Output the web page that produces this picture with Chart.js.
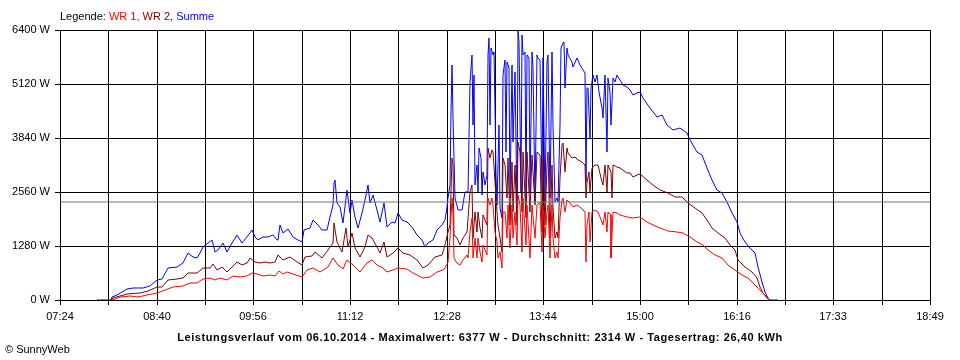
<!DOCTYPE html>
<html>
<head>
<meta charset="utf-8">
<script src="https://cdn.jsdelivr.net/npm/chart.js@4/dist/chart.umd.min.js"></script>
<style>
  html, body { margin: 0; padding: 0; background: #fff; }
  #wrap { position: relative; width: 960px; height: 360px; background: #fff; overflow: hidden; }
  #c { position: absolute; left: 0; top: 0; }
  .txt { position: absolute; font-family: "Liberation Sans", Arial, sans-serif; font-size: 11px; line-height: 13px; color: #000; white-space: nowrap; }
  #legend { left: 60px; top: 10px; }
  #title { left: 0; width: 960px; top: 331px; text-align: center; font-weight: bold; letter-spacing: 0.58px; }
  #copy { left: 5px; top: 343px; }
</style>
</head>
<body>
<div id="wrap">
  <canvas id="c" width="960" height="360"></canvas>
  <div id="legend" class="txt">Legende: <span style="color:#ff0000">WR 1,</span> <span style="color:#800000">WR 2,</span> <span style="color:#0000ff">Summe</span></div>
  <div id="title" class="txt">Leistungsverlauf vom 06.10.2014 - Maximalwert: 6377 W - Durchschnitt: 2314 W - Tagesertrag: 26,40 kWh</div>
  <div id="copy" class="txt">© SunnyWeb</div>
</div>
<script>
// x tick labels (every second grid line is labelled)
const xTickLabels = ['07:24','08:40','09:56','11:12','12:28','13:44','15:00','16:16','17:33','18:49'];
const yTickLabels = ['0 W','1280 W','2560 W','3840 W','5120 W','6400 W'];
const Y_MAX = 6400;
const Y_STEP = 1280;
const AVERAGE = 2314;

// [minutes since midnight, watts]
const wr1 = [[485.0,0],[487.3,24],[491.2,79],[499.1,95],[505.4,79],[512.3,118],[520.1,174],[526.7,237],[533.2,300],[541.1,332],[546.4,395],[551.6,411],[556.8,490],[562.1,513],[566.0,474],[570.0,513],[575.3,474],[580.5,569],[585.7,537],[591.0,569],[594.9,648],[598.8,616],[604.1,569],[609.4,592],[613.3,569],[616.7,695],[619.8,616],[622.5,660],[625.1,650],[627.7,616],[634.3,553],[638.2,711],[643.4,750],[648.7,672],[655.3,790],[659.2,988],[663.1,830],[667.1,727],[669.7,948],[674.9,830],[680.2,672],[685.5,869],[689.4,948],[693.4,830],[698.6,750],[701.2,672],[706.4,711],[710.4,750],[717.0,727],[722.2,632],[730.1,513],[735.3,553],[740.6,672],[745.8,711],[747.1,750],[749.7,908],[751.0,1462],[752.4,2410],[753.2,2094],[754.2,988],[756.3,869],[759.0,830],[761.6,948],[764.2,1067],[765.5,988],[766.8,1619],[768.2,1936],[769.4,988],[770.8,1462],[772.1,988],[773.4,1462],[774.7,1146],[776.1,908],[777.3,1304],[780.0,1067],[781.3,2410],[782.6,2252],[783.9,2410],[785.2,2252],[786.5,1619],[787.9,1383],[789.1,988],[790.5,1146],[791.8,750],[793.1,2094],[794.4,2094],[795.7,1462],[797.0,2252],[798.3,1225],[799.7,2252],[800.9,1462],[802.3,2094],[803.6,1304],[804.9,2489],[806.2,2252],[807.5,1146],[808.8,2410],[811.0,1304],[812.0,2252],[814.1,988],[815.4,2252],[818.0,1462],[819.4,2252],[822.0,2330],[823.3,1146],[824.5,2252],[825.9,1462],[827.2,2094],[828.5,2252],[829.8,988],[831.1,2252],[832.4,1462],[833.7,988],[835.0,1146],[836.4,988],[837.7,1936],[839.0,2370],[840.3,2410],[841.6,2094],[843.0,2370],[845.6,2292],[848.2,2212],[850.9,2252],[853.4,2212],[856.1,2133],[857.4,2094],[857.9,908],[859.2,1778],[860.3,2094],[861.3,1383],[862.7,2094],[865.3,2133],[867.9,2094],[870.5,1856],[871.8,1778],[873.1,2094],[874.5,1619],[875.7,2094],[877.6,2015],[878.1,988],[879.7,2094],[882.3,2054],[884.9,2015],[890.2,1975],[895.4,1936],[900.7,1959],[906.0,1856],[911.2,1778],[916.5,1698],[923.0,1643],[929.6,1619],[934.8,1580],[940.1,1501],[945.3,1383],[950.5,1304],[954.5,1185],[959.7,1067],[965.0,988],[970.2,830],[975.5,711],[980.8,592],[986.0,513],[991.2,356],[995.2,237],[999.1,118],[1001.7,39],[1003.0,0]];

const wr2 = [[484.2,0],[485.7,39],[491.2,95],[496.5,134],[507.0,158],[513.3,221],[520.1,300],[524.1,300],[529.3,474],[535.9,490],[541.1,513],[545.0,648],[551.6,632],[556.8,750],[562.1,750],[564.2,845],[567.4,711],[571.3,790],[575.3,672],[579.2,790],[583.1,908],[587.1,830],[591.0,869],[593.6,988],[597.5,908],[601.5,869],[605.4,908],[609.4,869],[613.3,908],[615.9,1067],[619.8,948],[625.1,1011],[630.4,908],[634.3,830],[636.9,1011],[642.2,1043],[644.8,1146],[650.1,988],[655.3,1185],[659.2,1343],[660.0,1817],[661.9,1383],[665.8,1146],[669.2,1698],[671.0,1264],[673.7,1580],[676.3,1225],[680.2,1027],[684.2,1264],[686.8,1540],[689.4,1462],[693.4,1264],[696.0,1106],[699.1,1383],[701.2,1027],[706.4,1106],[710.4,1225],[714.3,1106],[719.6,1067],[724.9,948],[730.1,750],[734.0,830],[739.3,1027],[744.5,1067],[747.1,1304],[749.7,1619],[751.0,1778],[752.4,3359],[753.2,3200],[754.2,1540],[756.3,1462],[759.0,1304],[761.6,1462],[764.2,1619],[766.8,2567],[768.2,2726],[769.4,1462],[770.8,2094],[772.1,1619],[773.4,2094],[774.7,1698],[776.1,1462],[777.3,2015],[780.0,1778],[781.3,3596],[782.6,3359],[783.9,3556],[785.2,3517],[786.5,2805],[787.9,2094],[789.1,1778],[790.5,1462],[791.8,1146],[793.1,3359],[794.4,3200],[795.7,2410],[797.0,3359],[798.3,1778],[799.7,3280],[800.9,2094],[802.3,3200],[803.6,1778],[804.9,3754],[806.2,3517],[807.5,2094],[808.8,3517],[811.0,1936],[812.0,3517],[814.1,2094],[815.4,3437],[818.0,2252],[819.4,3517],[822.0,3440],[823.3,1619],[824.5,3359],[825.9,1778],[827.2,3200],[828.5,3517],[829.8,1462],[831.1,3200],[832.4,2173],[833.7,1462],[835.0,1619],[836.4,1462],[837.7,2884],[839.0,3675],[840.3,3714],[841.6,3041],[843.0,3596],[844.2,3477],[846.9,3359],[849.5,3398],[852.1,3319],[854.8,3280],[857.4,3200],[857.9,2410],[859.2,2805],[860.3,3041],[861.3,2567],[862.7,3121],[865.3,3200],[867.9,3200],[870.5,2805],[871.8,2726],[873.1,3200],[874.5,2567],[875.7,3200],[877.6,3041],[878.4,2410],[879.7,3200],[882.3,3160],[884.9,3121],[887.5,3081],[890.2,3002],[892.8,3002],[895.4,2923],[898.1,2963],[900.7,2979],[906.0,2844],[911.2,2726],[916.5,2607],[923.0,2529],[928.3,2449],[933.5,2449],[938.8,2307],[944.0,2173],[949.3,2054],[953.2,1896],[957.1,1698],[962.3,1580],[967.6,1462],[971.5,1304],[975.5,1185],[978.1,948],[983.4,790],[988.6,672],[992.6,513],[995.2,316],[997.8,158],[1000.5,39],[1003.0,0]];

const summe = [[473.1,0],[484.2,0],[484.7,80],[488.6,118],[492.6,197],[496.5,253],[501.5,276],[509.4,276],[514.9,332],[520.1,474],[524.1,505],[529.0,750],[535.9,790],[540.9,869],[544.8,1106],[548.7,1027],[551.6,988],[554.2,1106],[556.6,1264],[560.5,1343],[563.4,1422],[566.0,1146],[568.4,1185],[572.3,1343],[575.3,1146],[579.2,1343],[583.1,1540],[587.1,1343],[591.0,1501],[594.9,1659],[597.5,1501],[600.1,1422],[604.1,1501],[608.0,1501],[612.0,1540],[614.6,1422],[615.8,1422],[617.2,1778],[619.8,1580],[623.8,1675],[627.7,1501],[631.6,1422],[634.3,1383],[636.1,1659],[640.8,1698],[643.4,1896],[647.4,1778],[650.1,1659],[654.0,1659],[656.6,1975],[658.7,2252],[659.7,2766],[660.8,2844],[661.9,2292],[664.5,2212],[667.1,1817],[669.7,2607],[672.3,2054],[673.7,2370],[676.3,1975],[678.9,1698],[681.6,2054],[684.2,2370],[686.8,2726],[688.1,2292],[690.2,2489],[693.4,2133],[696.0,1856],[699.1,2292],[701.2,1738],[705.2,1856],[707.8,1817],[710.4,2054],[713.1,1896],[717.0,1856],[720.9,1738],[724.9,1540],[728.8,1422],[731.4,1264],[734.0,1343],[737.9,1422],[740.6,1659],[744.5,1778],[747.1,1896],[748.4,2212],[749.7,2410],[751.0,2726],[751.8,4463],[752.9,5570],[753.7,4306],[755.0,2410],[757.6,2133],[760.3,2133],[762.9,2567],[765.5,2567],[766.8,5175],[768.2,5807],[769.0,4148],[770.0,5333],[770.8,2726],[772.1,3200],[773.4,2567],[774.2,3596],[775.3,3359],[776.1,2489],[777.3,3041],[778.6,2726],[780.0,2963],[780.8,5807],[781.8,6202],[782.6,4148],[783.4,5965],[784.7,5807],[785.7,5886],[786.5,4543],[787.3,2963],[788.3,2252],[789.4,4148],[790.5,2173],[791.8,1936],[793.1,5333],[794.2,5688],[795.2,3517],[796.2,5649],[797.3,5491],[798.3,2410],[799.7,5570],[800.9,3754],[802.3,5412],[803.6,2094],[804.6,6377],[805.6,6123],[806.8,2567],[807.8,6281],[808.8,5807],[810.2,5886],[811.0,2331],[812.0,5807],[813.1,5728],[814.1,2567],[815.4,5886],[816.7,5491],[818.0,2331],[819.4,5807],[820.6,5728],[822.0,5700],[823.3,2567],[824.5,5728],[825.9,2331],[827.2,5649],[828.5,5807],[829.8,2410],[831.1,5886],[832.4,4148],[833.7,2331],[835.0,2410],[836.4,2331],[837.7,4148],[838.5,5965],[839.8,6083],[840.8,6123],[841.9,5017],[843.0,5965],[844.2,5807],[846.9,5649],[848.2,5530],[850.9,5728],[853.4,5570],[855.6,5451],[857.4,5372],[857.9,2805],[858.7,5017],[860.0,5017],[861.3,3833],[862.1,5017],[863.4,5333],[865.3,5175],[867.1,5333],[868.6,4938],[870.5,4543],[871.8,4306],[873.1,5333],[874.5,3517],[875.7,5254],[877.1,4938],[878.1,4148],[879.2,5254],[881.0,5175],[882.8,5333],[884.9,5215],[887.5,5096],[890.2,5057],[892.8,4978],[895.4,4859],[898.1,4899],[900.7,4938],[903.3,4780],[908.6,4543],[913.8,4346],[917.8,4385],[921.7,4148],[926.9,4030],[932.2,4069],[937.5,3951],[940.1,3793],[945.3,3517],[949.2,3437],[953.2,3121],[957.1,2844],[961.1,2607],[965.0,2529],[968.9,2331],[972.9,2054],[976.8,1856],[979.4,1580],[983.4,1383],[987.3,1225],[991.2,1106],[993.8,790],[996.5,434],[999.1,197],[1001.7,39],[1003.0,0],[1009.3,0]];

function toMin(s) { const p = s.split(':'); return +p[0] * 60 + +p[1]; }
const X_MIN = toMin(xTickLabels[0]);
const X_MAX = toMin(xTickLabels[xTickLabels.length - 1]);
const GRID_DIV = (xTickLabels.length - 1) * 2;

const pts = arr => arr.map(([x, y]) => ({ x, y }));
const font = { family: '"Liberation Sans", Arial, sans-serif', size: 11 };

new Chart(document.getElementById('c'), {
  type: 'line',
  data: {
    datasets: [
      { label: 'Durchschnitt', data: [{ x: X_MIN, y: AVERAGE }, { x: X_MAX, y: AVERAGE }], borderColor: '#707070', borderWidth: 1 },
      { label: 'WR 1', data: pts(wr1), borderColor: '#ff0000', borderWidth: 1 },
      { label: 'WR 2', data: pts(wr2), borderColor: '#800000', borderWidth: 1 },
      { label: 'Summe', data: pts(summe), borderColor: '#0000ff', borderWidth: 1 }
    ]
  },
  options: {
    responsive: false,
    animation: false,
    devicePixelRatio: 1,
    elements: { point: { radius: 0 }, line: { tension: 0, fill: false } },
    layout: { padding: { top: 30, right: 30, left: 0, bottom: 35 } },
    plugins: { legend: { display: false }, title: { display: false }, tooltip: { enabled: false } },
    scales: {
      x: {
        type: 'linear', min: X_MIN, max: X_MAX, offset: false, alignToPixels: true,
        afterBuildTicks: s => {
          const t = [];
          for (let k = 0; k <= GRID_DIV; k++) t.push({ value: X_MIN + k * (X_MAX - X_MIN) / GRID_DIV });
          s.ticks = t;
        },
        afterFit: s => { s.height = 25; },
        ticks: { autoSkip: false, maxRotation: 0, minRotation: 0, padding: 5, color: '#000', font,
          callback: (v, i) => (i % 2 === 0 ? xTickLabels[i / 2] : '') },
        grid: { color: '#000', lineWidth: 1, tickLength: 5, drawTicks: true },
        border: { color: '#000', width: 1 }
      },
      y: {
        min: 0, max: Y_MAX, alignToPixels: true,
        afterFit: s => { s.width = 60; },
        ticks: { stepSize: Y_STEP, padding: 5, color: '#000', font,
          callback: (v, i) => yTickLabels[i] },
        grid: { color: '#000', lineWidth: 1, tickLength: 5, drawTicks: true },
        border: { color: '#000', width: 1 }
      }
    }
  }
});
</script>
</body>
</html>
